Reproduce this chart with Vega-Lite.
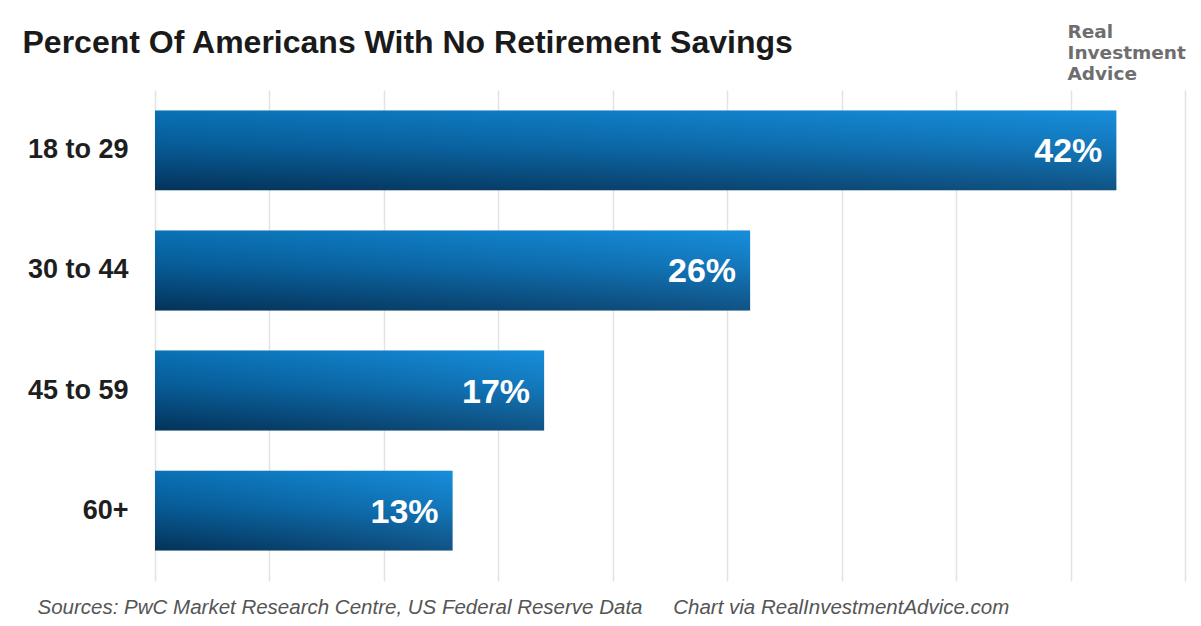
{
  "$schema": "https://vega.github.io/schema/vega-lite/v6.json",
  "width": 1030,
  "height": 481,
  "autosize": {"type": "none"},
  "padding": {"left": 155, "top": 90, "right": 16, "bottom": 55},
  "background": "#ffffff",
  "data": {
    "values": [
      {"age": "18 to 29", "pct": 42, "label": "42%"},
      {"age": "30 to 44", "pct": 26, "label": "26%"},
      {"age": "45 to 59", "pct": 17, "label": "17%"},
      {"age": "60+", "pct": 13, "label": "13%"}
    ]
  },
  "config": {
    "view": {"stroke": null},
    "font": "Liberation Sans"
  },
  "resolve": {"axis": {"x": "independent", "y": "independent"}},
  "layer": [
    {
      "mark": {
        "type": "bar",
        "color": {
          "gradient": "linear",
          "x1": 0, "y1": 0, "x2": 0, "y2": 1,
          "stops": [
            {"offset": 0, "color": "#0c86d2"},
            {"offset": 0.45, "color": "#086aab"},
            {"offset": 1, "color": "#043a62"}
          ]
        }
      },
      "encoding": {
        "y": {
          "field": "age",
          "type": "nominal",
          "sort": null,
          "scale": {"paddingInner": 0.335, "paddingOuter": 0.17},
          "axis": {
            "ticks": false,
            "domain": false,
            "labelFont": "Liberation Sans",
            "labelFontSize": 27,
            "labelFontWeight": "bold",
            "labelColor": "#1e1e1e",
            "labelPadding": 27,
            "title": ["Real", "Investment", "Advice"],
            "titleFont": "DejaVu Sans",
            "titleFontSize": 18.5,
            "titleFontWeight": "bold",
            "titleColor": "#6e6e6e",
            "titleLineHeight": 21,
            "titleAngle": 0,
            "titleAlign": "left",
            "titleBaseline": "top",
            "titleX": 912,
            "titleY": -68
          }
        },
        "x": {
          "field": "pct",
          "type": "quantitative",
          "scale": {"domain": [0, 45], "nice": false},
          "axis": {
            "values": [0, 5, 10, 15, 20, 25, 30, 35, 40, 45],
            "labels": false,
            "domain": false,
            "grid": true,
            "gridColor": "#e3e3e3",
            "gridWidth": 1.5,
            "ticks": true,
            "tickSize": 10,
            "tickColor": "#e3e3e3",
            "tickWidth": 1.5,
            "title": "Sources: PwC Market Research Centre, US Federal Reserve Data\u2003\u2002Chart via RealInvestmentAdvice.com",
            "titleFont": "Liberation Sans",
            "titleFontSize": 20.5,
            "titleFontStyle": "italic",
            "titleFontWeight": "normal",
            "titleColor": "#555555",
            "titleAlign": "left",
            "titleBaseline": "alphabetic",
            "titleX": -118,
            "titleY": 42
          }
        }
      }
    },
    {
      "mark": {
        "type": "bar",
        "color": {
          "gradient": "linear",
          "x1": 0, "y1": 0, "x2": 1, "y2": 0,
          "stops": [
            {"offset": 0, "color": "rgba(0,20,50,0.18)"},
            {"offset": 1, "color": "rgba(60,170,250,0.22)"}
          ]
        }
      },
      "encoding": {
        "y": {"field": "age", "type": "nominal", "sort": null, "axis": null},
        "x": {"field": "pct", "type": "quantitative", "axis": null}
      }
    },
    {
      "mark": {
        "type": "text",
        "align": "right",
        "baseline": "middle",
        "dx": -14,
        "dy": 2,
        "color": "#ffffff",
        "font": "Liberation Sans",
        "fontSize": 34,
        "fontWeight": "bold"
      },
      "encoding": {
        "y": {"field": "age", "type": "nominal", "sort": null, "axis": null},
        "x": {
          "field": "pct",
          "type": "quantitative",
          "axis": {
            "orient": "top",
            "labels": false,
            "ticks": false,
            "domain": false,
            "grid": false,
            "title": "Percent Of Americans With No Retirement Savings",
            "titleFont": "Liberation Sans",
            "titleFontSize": 32,
            "titleFontWeight": "bold",
            "titleColor": "#1a1a1a",
            "titleAlign": "left",
            "titleBaseline": "alphabetic",
            "titleX": -133,
            "titleY": -38
          }
        },
        "text": {"field": "label"}
      }
    }
  ]
}
